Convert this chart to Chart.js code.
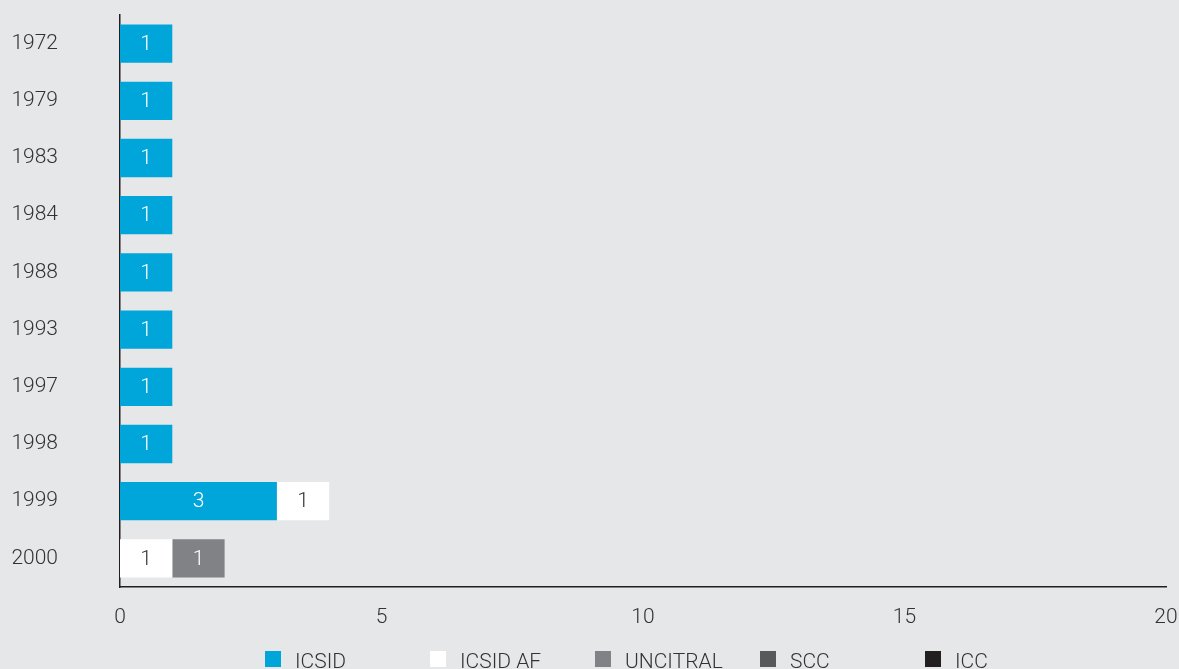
<!DOCTYPE html>
<html>
<head>
<meta charset="utf-8">
<script src="https://cdn.jsdelivr.net/npm/chart.js@4"></script>
<style>
  html, body { margin: 0; padding: 0; background: #e6e7e9; }
  #wrap { width: 1179px; height: 669px; position: relative; }
</style>
</head>
<body>
<div id="wrap"><canvas id="myChart"></canvas></div>
<script>
const years = ['1972', '1979', '1983', '1984', '1988', '1993', '1997', '1998', '1999', '2000'];
const icsid = [1, 1, 1, 1, 1, 1, 1, 1, 3, null];
const icsidAf = [null, null, null, null, null, null, null, null, 1, 1];
const uncitral = [null, null, null, null, null, null, null, null, null, 1];
const scc = [null, null, null, null, null, null, null, null, null, null];
const icc = [null, null, null, null, null, null, null, null, null, null];
const xTicks = [0, 5, 10, 15, 20];

const FONT = 'Roboto, "Liberation Sans", sans-serif';
const BG = '#e6e7e9';
const TEXT = '#333333';

const bgPlugin = {
    id: 'bg',
    beforeDraw(chart) {
        const ctx = chart.ctx;
        ctx.save();
        ctx.fillStyle = BG;
        ctx.fillRect(0, 0, chart.width, chart.height);
        ctx.restore();
    }
};

// value labels in the middle of each bar
const labelPlugin = {
    id: 'barLabels',
    afterDatasetsDraw(chart) {
        const ctx = chart.ctx;
        ctx.save();
        ctx.font = '300 21px ' + FONT;
        ctx.textAlign = 'center';
        ctx.textBaseline = 'middle';
        chart.data.datasets.forEach((ds, i) => {
            const meta = chart.getDatasetMeta(i);
            meta.data.forEach((bar, j) => {
                const v = ds.data[j];
                if (v == null) return;
                const p = bar.getProps(['x', 'y', 'base'], true);
                ctx.fillStyle = ds.labelColor;
                ctx.fillText(String(v), (p.x + p.base) / 2, p.y + 1);
            });
        });
        ctx.restore();
    }
};

// legend with fixed spacing along the bottom edge
const legendPlugin = {
    id: 'fixedLegend',
    afterDraw(chart) {
        const ctx = chart.ctx;
        ctx.save();
        ctx.font = '300 21px ' + FONT;
        ctx.textAlign = 'left';
        ctx.textBaseline = 'alphabetic';
        chart.data.datasets.forEach((ds, i) => {
            const x = 265 + i * 165;
            ctx.fillStyle = ds.backgroundColor;
            ctx.fillRect(x, 651, 16, 16);
            ctx.fillStyle = TEXT;
            ctx.fillText(ds.label, x + 30, 668);
        });
        ctx.restore();
    }
};

function makeSet(label, data, color, labelColor) {
    return {
        label: label,
        data: data,
        backgroundColor: color,
        labelColor: labelColor,
        borderWidth: 0,
        barPercentage: 0.67,
        categoryPercentage: 1.0
    };
}

const chart = new Chart(document.getElementById('myChart'), {
    type: 'bar',
    data: {
        labels: years,
        datasets: [
            makeSet('ICSID', icsid, '#00a6da', '#ffffff'),
            makeSet('ICSID AF', icsidAf, '#ffffff', TEXT),
            makeSet('UNCITRAL', uncitral, '#808285', '#ffffff'),
            makeSet('SCC', scc, '#58595b', '#ffffff'),
            makeSet('ICC', icc, '#231f20', '#ffffff')
        ]
    },
    options: {
        indexAxis: 'y',
        animation: false,
        responsive: true,
        maintainAspectRatio: false,
        layout: { padding: { top: 15, right: 13, left: 0, bottom: 0 } },
        plugins: {
            legend: { display: false },
            tooltip: { enabled: false }
        },
        scales: {
            x: {
                stacked: true,
                min: 0,
                max: 20,
                afterBuildTicks: (scale) => { scale.ticks = xTicks.map(v => ({ value: v })); },
                afterFit: (scale) => {
                    scale.height = 82;
                    scale.paddingLeft = 0;
                    scale.paddingRight = 0;
                },
                grid: { display: false, drawTicks: false },
                border: { display: true, color: '#231f20', width: 1.5 },
                ticks: { color: TEXT, padding: 18, font: { family: FONT, size: 21, weight: 300 } }
            },
            y: {
                stacked: true,
                afterFit: (scale) => {
                    scale.width = 120;
                    scale.paddingTop = 0;
                    scale.paddingBottom = 0;
                },
                grid: { display: false, drawTicks: false },
                border: { display: true, color: '#231f20', width: 1.5 },
                ticks: { color: TEXT, padding: 62, font: { family: FONT, size: 21, weight: 300 } }
            }
        }
    },
    plugins: [bgPlugin, labelPlugin, legendPlugin]
});
</script>
</body>
</html>
